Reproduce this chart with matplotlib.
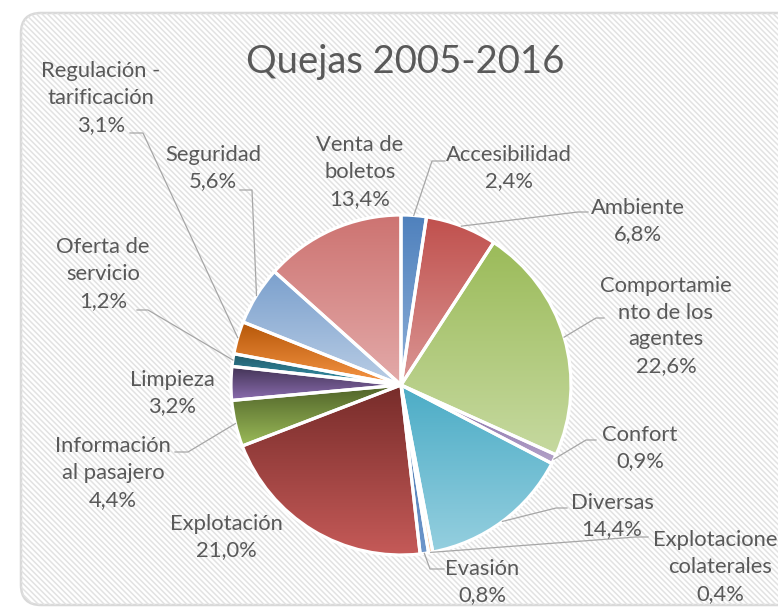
import numpy as np
import matplotlib.pyplot as plt
from matplotlib.patches import FancyBboxPatch
from matplotlib.collections import LineCollection
from matplotlib.colors import to_rgb

plt.rcParams['font.family'] = ['Lato', 'DejaVu Sans']

W, H = 778, 610

names = ["Accesibilidad", "Ambiente", "Comportamie\nnto de los\nagentes", "Confort",
         "Diversas", "Explotaciones\ncolaterales", "Evasión", "Explotación",
         "Información\nal pasajero", "Limpieza", "Oferta de\nservicio",
         "Regulación -\ntarificación", "Seguridad", "Venta de\nboletos"]
pct = [2.4, 6.8, 22.6, 0.9, 14.4, 0.4, 0.8, 21.0, 4.4, 3.2, 1.2, 3.1, 5.6, 13.4]

top_colors = ["#4F81BD", "#C0504D", "#9BBB59", "#8064A2", "#4BACC6", "#F79646",
              "#3C6DAA", "#772C2A", "#4F6228", "#3F3151", "#215967", "#B65708",
              "#7BA0CD", "#CD7371"]
bottom_colors = ["#8EAFD8", "#DA9694", "#C6D9A0", "#B3A2C8", "#95CFDF", "#FAC090",
                 "#6F97CB", "#C55A58", "#9BBB59", "#8A6CAE", "#3795AE", "#F79646",
                 "#B9CDE5", "#E3AAA9"]

# label layout (pixel coords from top-left) and leader attach points
label_pos = [(509, 168), (638, 221), (666, 326), (640, 448), (612, 516), (720, 567),
             (482, 582), (226, 537), (113, 473), (172, 393), (103, 274), (101, 98),
             (213, 168), (360, 172)]
leaders = [[(445, 161), (432, 161)], [(588, 212), (578, 212)], [(604, 318), (596, 318)],
           [(596, 440), (586, 440)], [(567, 508), (556, 508)], [(648, 537), (636, 537)],
           [(444, 569), (430, 569)], None, [(175, 452), (188, 452)], None,
           [(137, 310), (148, 310)], [(130, 133), (143, 133)], [(240, 190), (252, 190)], None]

cx, cy, R = 401, 385, 170
txt_color = "#595959"

fig = plt.figure(figsize=(W / 100, H / 100), dpi=100)
ax = fig.add_axes([0, 0, 1, 1])

Y = lambda y: H - y

# background panel with diagonal stripes
panel = FancyBboxPatch((21, Y(605)), 820, 592, boxstyle="round,pad=0,rounding_size=20",
                       facecolor='white', edgecolor='#D9D9D9', lw=1.8, zorder=0.5)
ax.add_patch(panel)
offs = np.arange(0, W + H + 10, 5.5)
segs = [[(c - H - 10, H + 10), (c + 10, -10)] for c in offs]
stripes = LineCollection(segs, colors='#E2E2E2', linewidths=1.1, zorder=0.6)
ax.add_collection(stripes)
stripes.set_clip_path(panel)

wedges, _ = ax.pie(pct, startangle=90, counterclock=False, center=(cx, Y(cy)), radius=R,
                   wedgeprops=dict(edgecolor='white', linewidth=2.3, facecolor='none'),
                   frame=True)
ax.set_xlim(0, W)
ax.set_ylim(0, H)
ax.set_aspect('equal')
ax.axis('off')

for w, c0, c1 in zip(wedges, top_colors, bottom_colors):
    w.set_zorder(3)
    ext = w.get_path().get_extents()
    t = np.linspace(0, 1, 256)[:, None]
    grad = (1 - t) * np.array(to_rgb(c0)) + t * np.array(to_rgb(c1))
    im = ax.imshow(grad[:, None, :], extent=[ext.x0, ext.x1, ext.y0, ext.y1],
                   origin='upper', aspect='auto', zorder=2, interpolation='bilinear')
    im.set_clip_path(w)

cum = np.cumsum([0] + pct[:-1])
total = sum(pct)
for i, (name, p) in enumerate(zip(names, pct)):
    lx, ly = label_pos[i]
    ax.text(lx, Y(ly), f"{name}\n{p:.1f}%".replace('.', ','), ha='center', va='center',
            fontsize=15.8, color=txt_color, linespacing=1.42, zorder=5)
    if leaders[i] is not None:
        mid = cum[i] + p / 2
        ang = np.deg2rad(90 - 360 * mid / total)
        px, py = cx + R * np.cos(ang), cy - R * np.sin(ang)
        pts = leaders[i] + [(px, py)]
        ax.plot([q[0] for q in pts], [Y(q[1]) for q in pts], color='#A6A6A6', lw=0.9, zorder=4)

ax.text(405, Y(62), "Quejas 2005-2016", ha='center', va='center', fontsize=27.5,
        color=txt_color, zorder=5)

fig.savefig("out.png", dpi=100)
